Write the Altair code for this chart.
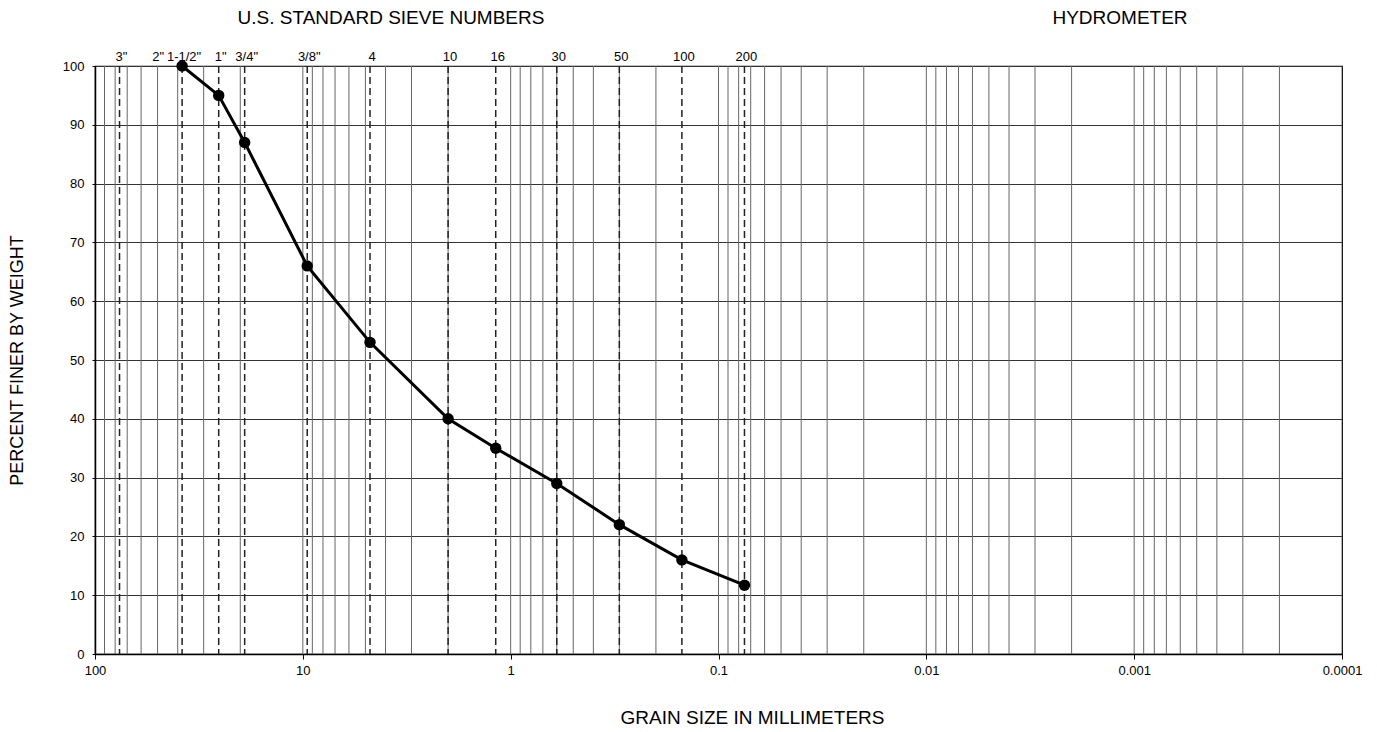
import altair as alt
import pandas as pd

# Gradation test data (grain size in mm, percent finer)
grain_mm = [38.1, 25.4, 19.05, 9.525, 4.75, 2.0, 1.18, 0.6, 0.3, 0.15, 0.075]
pct_finer = [100, 95, 87, 66, 53, 40, 35, 29, 22, 16, 11.7]

# U.S. standard sieve openings (mm) and labels
sieve_mm = [76.2, 50.8, 38.1, 25.4, 19.05, 9.525, 4.75, 2.0, 1.18, 0.6, 0.3, 0.15, 0.075]
sieve_labels = ['3"', '2"', '1-1/2"', '1"', '3/4"', '3/8"', '4', '10', '16', '30', '50', '100', '200']
# sieves drawn as dashed lines (2" line is not drawn in the reference)
sieve_dashed_mm = [76.2, 38.1, 25.4, 19.05, 9.525, 4.75, 2.0, 1.18, 0.6, 0.3, 0.15, 0.075]

# Log grid: multipliers within each decade
decades = [10, 1, 0.1, 0.01, 0.001, 0.0001]
multipliers = [1, 2, 3, 4, 5, 6, 7, 8, 9]
grid_mm = [round(m * d, 6) for d in decades for m in multipliers if 0.0001 < m * d < 100]

x_ticks = [100, 10, 1, 0.1, 0.01, 0.001, 0.0001]
y_ticks = [0, 10, 20, 30, 40, 50, 60, 70, 80, 90, 100]

W, H = 1247, 588
TITLE_FS = 19

xscale = alt.Scale(type="log", domain=[0.0001, 100], reverse=True)
yscale = alt.Scale(domain=[0, 100])

df_curve = pd.DataFrame({"d": grain_mm, "p": pct_finer})
df_sieve = pd.DataFrame({"d": sieve_mm, "lab": sieve_labels})
df_dash = pd.DataFrame({"d": sieve_dashed_mm})
df_grid = pd.DataFrame({"d": grid_mm})

x_axis = alt.Axis(
    values=x_ticks,
    format="~g",
    grid=False,
    title="GRAIN SIZE IN MILLIMETERS",
    titleX=752 - 95,
    titleY=717 - 654,
    titleAlign="center",
    titleBaseline="middle",
    titleFontSize=TITLE_FS,
    titleFontWeight="normal",
    labelFontSize=13,
    labelPadding=5,
    tickSize=5,
    tickColor="black",
    domainColor="black",
    domainWidth=1.5,
    labelColor="black",
    titleColor="black",
    labelFlush=False,
)
y_axis = alt.Axis(
    values=y_ticks,
    grid=True,
    gridColor="#333333",
    gridWidth=1,
    title="PERCENT FINER BY WEIGHT",
    titleX=17 - 95,
    titleY=H / 2,
    titleAngle=270,
    titleAlign="center",
    titleBaseline="middle",
    titleFontSize=18,
    titleFontWeight="normal",
    labelFontSize=13,
    labelPadding=8,
    tickSize=3,
    tickColor="black",
    domainColor="black",
    domainWidth=1.5,
    labelColor="black",
    titleColor="black",
)

X = alt.X("d:Q", scale=xscale, axis=x_axis)

grid = alt.Chart(df_grid).mark_rule(color="#666666", strokeWidth=1).encode(x=X)

dashed = alt.Chart(df_dash).mark_rule(
    color="#222222", strokeWidth=1.5, strokeDash=[7, 4]
).encode(x=X)

sieve_text = alt.Chart(df_sieve).mark_text(
    fontSize=13, baseline="alphabetic", align="center", color="black", dx=2
).encode(x=X, y=alt.value(-5), text="lab:N")

curve = alt.Chart(df_curve).mark_line(color="black", strokeWidth=3).encode(
    x=X, y=alt.Y("p:Q", scale=yscale, axis=y_axis)
)

points = alt.Chart(df_curve).mark_point(
    filled=True, color="black", size=130, opacity=1
).encode(x=X, y=alt.Y("p:Q", scale=yscale, axis=y_axis))

titles_df = pd.DataFrame({"t": ["U.S. STANDARD SIEVE NUMBERS"]})
title_sieve = alt.Chart(titles_df).mark_text(
    fontSize=TITLE_FS, align="center", baseline="middle", color="black"
).encode(x=alt.value(391 - 95), y=alt.value(18 - 66), text="t:N")

hyd_df = pd.DataFrame({"t": ["HYDROMETER"]})
title_hyd = alt.Chart(hyd_df).mark_text(
    fontSize=TITLE_FS, align="center", baseline="middle", color="black"
).encode(x=alt.value(1120 - 95), y=alt.value(18 - 66), text="t:N")

chart = (
    alt.layer(grid, dashed, curve, points, sieve_text, title_sieve, title_hyd)
    .properties(
        width=W,
        height=H,
        autosize=alt.AutoSizeParams(type="none"),
        padding={"left": 87, "top": 58, "right": 27, "bottom": 76},
    )
    .configure(font="Liberation Sans")
    .configure_view(stroke="black", strokeWidth=1.2)
)

chart.save("out.html", embed_options={"renderer": "svg", "actions": False})
